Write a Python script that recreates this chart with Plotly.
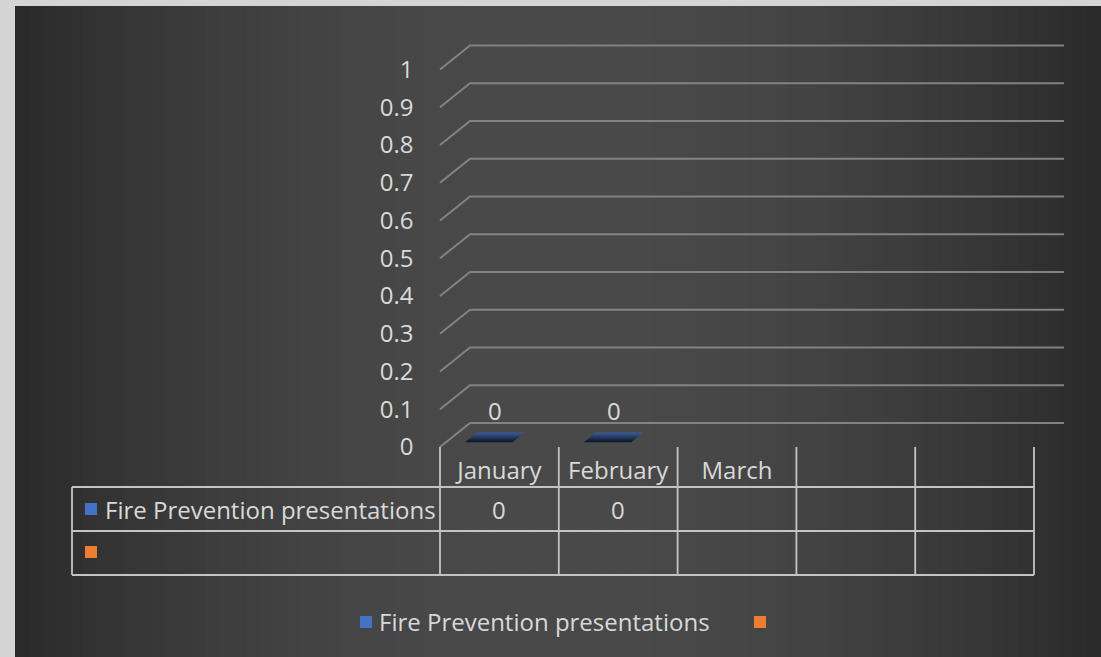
import plotly.graph_objects as go

# ---------------- data ----------------
categories = ["January", "February", "March", "", ""]
series1_name = "Fire Prevention presentations"
series1_values = [0, 0, None, None, None]
series2_name = ""
series2_values = [None, None, None, None, None]
y_tick_values = [0, 0.1, 0.2, 0.3, 0.4, 0.5, 0.6, 0.7, 0.8, 0.9, 1]
y_tick_labels = ["0", "0.1", "0.2", "0.3", "0.4", "0.5", "0.6", "0.7", "0.8", "0.9", "1"]

# ---------------- style / geometry ----------------
W, H = 1101, 657
BLUE = "#4472c4"
ORANGE = "#ed7d31"
TXT = "#d9d9d9"
GRID = "#828282"
TABLE = "#c4c4c4"
FONT = "Open Sans"
FS = 24

COLW = 118.8          # px per category
UNIT_Y = 377.5        # px per 1.0 on value axis
DX = 30 / COLW        # 3D depth offset (x units)
DY = 24 / UNIT_Y      # 3D depth offset (y units)
PX, PY = 0.012, 0.012 # small padding so edge lines are not clipped

x_r = [-0.5 - PX, len(categories) - 0.5 + DX + PX]
y_r = [0 - PY, 1 + DY + PY]
x_left_px = 440 - PX * COLW
x_right_px = x_left_px + (x_r[1] - x_r[0]) * COLW
y_bot_px = 447 + PY * UNIT_Y
y_top_px = y_bot_px - (y_r[1] - y_r[0]) * UNIT_Y

def fx(p):
    return p / W

def fy(p):
    return 1 - p / H

def data_x_to_paper(x):
    return fx(x_left_px + (x - x_r[0]) * COLW)

fig = go.Figure()

# background gradient (dark, lighter toward centre)
N = 80
x0p, x1p = 15, W
for k in range(N):
    a = x0p + (x1p - x0p) * k / N
    b = x0p + (x1p - x0p) * (k + 1) / N + 1
    t = ((a + b) / 2 - x0p) / (x1p - x0p)
    s = 1 - (2 * t - 1) ** 2
    c = int(42 + (74 - 42) * s)
    fig.add_shape(type="rect", xref="paper", yref="paper", layer="below",
                  x0=fx(a), x1=fx(min(b, W)), y0=0, y1=fy(6),
                  fillcolor=f"rgb({c},{c},{c})", line_width=0)

# gridlines on back wall + diagonal edges on side wall
gx, gy = [], []
for v in y_tick_values:
    gx += [-0.5, -0.5 + DX, len(categories) - 0.5 + DX, None]
    gy += [v, v + DY, v + DY, None]
fig.add_trace(go.Scatter(x=gx, y=gy, mode="lines", line=dict(color=GRID, width=2),
                         hoverinfo="skip", showlegend=False))

# series columns (zero height here)
xs = list(range(len(categories)))
fig.add_trace(go.Bar(x=xs, y=series1_values, name=series1_name, marker_color=BLUE,
                     marker_line_width=0, width=0.4, showlegend=False))
fig.add_trace(go.Bar(x=xs, y=series2_values, name=series2_name, marker_color=ORANGE,
                     marker_line_width=0, width=0.4, showlegend=False))

# 3D top face of each column
OFF, HW, D1, D2 = -0.14, 0.2, 0.2, 0.6
for i, v in enumerate(series1_values):
    if v is None:
        continue
    px_ = [i + OFF - HW + DX * D1, i + OFF + HW + DX * D1, i + OFF + HW + DX * D2,
           i + OFF - HW + DX * D2, i + OFF - HW + DX * D1]
    py_ = [v + DY * D1, v + DY * D1, v + DY * D2, v + DY * D2, v + DY * D1]
    fig.add_trace(go.Scatter(x=px_, y=py_, mode="lines", fill="toself",
                             fillgradient=dict(type="vertical",
                                               colorscale=[[0, "#0c1322"], [1, "#3a5c9c"]]),
                             line=dict(width=0), hoverinfo="skip", showlegend=False))
    fig.add_annotation(x=i + OFF + DX * 0.4, y=v + DY * 0.4, xref="x", yref="y",
                       text=str(v), showarrow=False, xanchor="center", yanchor="bottom",
                       yshift=8, font=dict(family=FONT, size=FS, color=TXT))

# ---------------- data table ----------------
shapes = []
for i in range(len(categories) + 1):
    shapes.append(dict(type="line", xref="x", yref="paper", x0=i - 0.5, x1=i - 0.5,
                       y0=fy(447), y1=fy(575), line=dict(color=TABLE, width=1.8)))
right = data_x_to_paper(len(categories) - 0.5)
for yy in (487, 531, 575):
    shapes.append(dict(type="line", xref="paper", yref="paper", x0=fx(72), x1=right,
                       y0=fy(yy), y1=fy(yy), line=dict(color=TABLE, width=1.8)))
shapes.append(dict(type="line", xref="paper", yref="paper", x0=fx(72), x1=fx(72),
                   y0=fy(487), y1=fy(575), line=dict(color=TABLE, width=1.8)))
# series key squares in the table
for (yc, col) in ((509, BLUE), (552, ORANGE)):
    shapes.append(dict(type="rect", xref="paper", yref="paper", x0=fx(85), x1=fx(97),
                       y0=fy(yc + 6), y1=fy(yc - 6), fillcolor=col, line_width=0))
# legend key squares
for (xc, col) in ((366, BLUE), (760, ORANGE)):
    shapes.append(dict(type="rect", xref="paper", yref="paper", x0=fx(xc - 6), x1=fx(xc + 6),
                       y0=fy(628), y1=fy(616), fillcolor=col, line_width=0))
for s in shapes:
    fig.add_shape(**s)

fig.add_annotation(x=fx(103), y=fy(509), xref="paper", yref="paper", text=series1_name,
                   showarrow=False, xanchor="left", yanchor="middle",
                   font=dict(family=FONT, size=FS, color=TXT))
for i, v in enumerate(series1_values):
    if v is not None:
        fig.add_annotation(x=i, y=fy(509), xref="x", yref="paper", text=str(v),
                           showarrow=False, xanchor="center", yanchor="middle",
                           font=dict(family=FONT, size=FS, color=TXT))

# legend text
fig.add_annotation(x=fx(377), y=fy(621), xref="paper", yref="paper", text=series1_name,
                   showarrow=False, xanchor="left", yanchor="middle",
                   font=dict(family=FONT, size=FS, color=TXT))
fig.add_annotation(x=fx(775), y=fy(621), xref="paper", yref="paper", text=series2_name,
                   showarrow=False, xanchor="left", yanchor="middle",
                   font=dict(family=FONT, size=FS, color=TXT))

fig.update_layout(
    template="none",
    width=W, height=H, autosize=False,
    margin=dict(l=0, r=0, t=0, b=0, pad=0, autoexpand=False),
    paper_bgcolor="#d4d4d4", plot_bgcolor="rgba(0,0,0,0)",
    barmode="group", showlegend=False,
    font=dict(family=FONT, size=FS, color=TXT),
    xaxis=dict(domain=[fx(x_left_px), fx(x_right_px)], range=x_r, showgrid=False,
               zeroline=False, showline=False, tickmode="array", tickvals=xs,
               ticktext=categories, ticks="", ticklabelstandoff=2, automargin=False,
               tickfont=dict(family=FONT, size=FS, color=TXT)),
    yaxis=dict(domain=[fy(y_bot_px), fy(y_top_px)], range=y_r, showgrid=False,
               zeroline=False, showline=False, tickmode="array", tickvals=y_tick_values,
               ticktext=y_tick_labels, ticks="", ticklabelstandoff=24, automargin=False,
               tickfont=dict(family=FONT, size=FS, color=TXT)),
)

fig.write_html("out.html")
